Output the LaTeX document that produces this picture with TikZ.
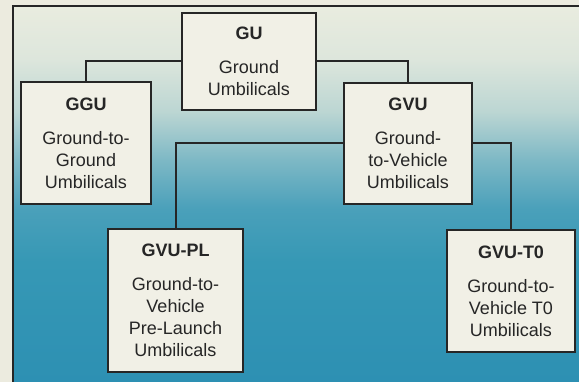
\documentclass[tikz,border=0pt]{standalone}
\usepackage{fontspec}
\setmainfont{Liberation Sans}

\definecolor{paper}{HTML}{ECEBDF}
\definecolor{boxfill}{HTML}{F1F0E6}
\definecolor{ink}{HTML}{262626}
\definecolor{sheetA}{HTML}{E9ECDF}
\definecolor{sheetB}{HTML}{DDE6DC}
\definecolor{sheetC}{HTML}{BCD6D3}
\definecolor{sheetD}{HTML}{7DB8C5}
\definecolor{sheetE}{HTML}{4AA0BA}
\definecolor{sheetF}{HTML}{3698B5}
\definecolor{sheetG}{HTML}{2D90B3}

% stops between 25bp (bottom) and 75bp (top) span the shaded path
\pgfdeclareverticalshading{sheetshade}{100bp}{%
  color(0bp)=(sheetG);
  color(25bp)=(sheetG);
  color(41bp)=(sheetF);
  color(48bp)=(sheetE);
  color(54.5bp)=(sheetD);
  color(61bp)=(sheetC);
  color(68bp)=(sheetB);
  color(75bp)=(sheetA);
  color(100bp)=(sheetA)}

\begin{document}
\begin{tikzpicture}[x=1pt, y=-1pt,
    umbox/.style={draw=ink, line width=2pt, fill=boxfill, text=ink, align=center,
                  inner sep=0pt, font=\fontsize{18}{22}\selectfont},
    elbow/.style={to path={-| (\tikztotarget)}},
    link/.style={draw=ink, line width=2pt}]
  \useasboundingbox (0,0) rectangle (579,382);
  \fill[paper] (0,0) rectangle (579,382);
  \begin{scope}
    \clip (0,0) rectangle (579,382);
    \shade[shading=sheetshade] (13,6) rectangle (600,382);
    \draw[ink, line width=2pt] (13,400) -- (13,6) -- (600,6);
  \end{scope}

  \node[umbox, minimum width=134pt, minimum height=97pt]  (gu)    at (249,61.5)
    {\textbf{GU}\\[12pt]Ground\\Umbilicals};
  \node[umbox, minimum width=130pt, minimum height=122pt] (ggu)   at (86,143)
    {\textbf{GGU}\\[12pt]Ground-to-\\Ground\\Umbilicals};
  \node[umbox, minimum width=128pt, minimum height=121pt] (gvu)   at (408,143.5)
    {\textbf{GVU}\\[12pt]Ground-\\to-Vehicle\\Umbilicals};
  \node[umbox, minimum width=135pt, minimum height=143pt] (gvupl) at (175.5,300.5)
    {\textbf{GVU-PL}\\[12pt]Ground-to-\\Vehicle\\Pre-Launch\\Umbilicals};
  \node[umbox, minimum width=128pt, minimum height=122pt] (gvut0) at (511,291)
    {\textbf{GVU-T0}\\[12pt]Ground-to-\\Vehicle T0\\Umbilicals};

  \path[link]
    (gu.west)  edge[elbow] (ggu.north)
    (gu.east)  edge[elbow] (gvu.north)
    (gvu.west) edge[elbow] (gvupl.north)
    (gvu.east) edge[elbow] (gvut0.north);
\end{tikzpicture}
\end{document}
